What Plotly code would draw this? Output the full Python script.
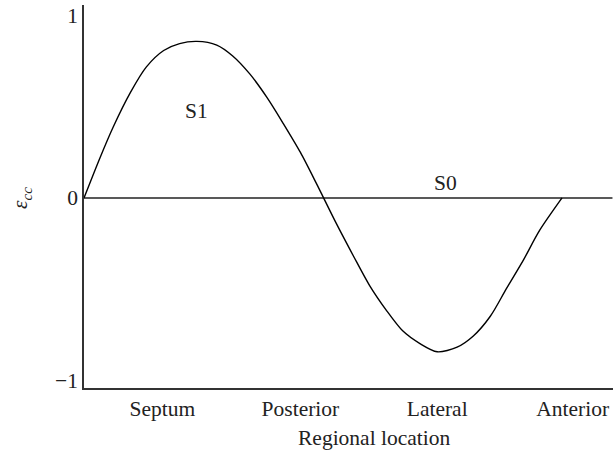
import plotly.graph_objects as go

# S1 curve (x: position along the regional circumference, y: strain)
s1_x = [0, 12, 22, 35, 47, 60, 72, 85, 100, 112, 125, 138, 150, 163, 175,
        190, 203, 215, 228, 240, 253, 266, 281, 293, 306, 318, 331, 343, 360]
s1_y = [0.0, 0.22, 0.39, 0.58, 0.72, 0.81, 0.848, 0.86, 0.84, 0.78, 0.68, 0.55, 0.41, 0.25, 0.08,
        -0.14, -0.32, -0.48, -0.62, -0.73, -0.80, -0.845, -0.82, -0.76, -0.65, -0.50, -0.34, -0.18, 0.0]

# S0 baseline
s0_x = [0, 398]
s0_y = [0, 0]

x_tick_pos = [59, 163, 266, 368]
x_tick_labels = ["Septum", "Posterior", "Lateral", "Anterior"]
y_tick_vals = [-1, 0, 1]
y_tick_labels = ["\u22121", "0", "1"]

FONT = "Liberation Serif"
FS = 21.5

fig = go.Figure()
fig.add_trace(go.Scatter(x=s0_x, y=s0_y, mode="lines",
                         line=dict(color="#222222", width=1.5), name="S0"))
fig.add_trace(go.Scatter(x=s1_x, y=s1_y, mode="lines",
                         line=dict(color="#000000", width=1.4, shape="spline", smoothing=0.8),
                         name="S1"))

fig.add_annotation(x=85, y=0.48, text="S1", showarrow=False,
                   xanchor="center", yanchor="middle",
                   font=dict(family=FONT, size=FS, color="#222"))
fig.add_annotation(x=272, y=0.08, text="S0", showarrow=False,
                   xanchor="center", yanchor="middle",
                   font=dict(family=FONT, size=FS, color="#222"))

fig.add_annotation(xref="paper", yref="paper", x=(374 - 84) / 529, y=-(438 - 388) / 383,
                   text="Regional location", showarrow=False,
                   xanchor="center", yanchor="middle",
                   font=dict(family=FONT, size=FS, color="#222"))
fig.add_annotation(xref="paper", yref="paper", x=-(84 - 21) / 529, y=(388 - 198) / 383,
                   text="<i>ε<sub>cc</sub></i>", showarrow=False, textangle=-90,
                   xanchor="center", yanchor="middle",
                   font=dict(family=FONT, size=FS, color="#222"))

fig.update_layout(
    width=614, height=454,
    margin=dict(l=84, r=1, t=5, b=66, autoexpand=False),
    paper_bgcolor="white", plot_bgcolor="white",
    showlegend=False,
    font=dict(family=FONT, size=FS, color="#222"),
)
fig.update_xaxes(range=[0, 398.4], tickvals=x_tick_pos, ticktext=x_tick_labels,
                 showgrid=False, zeroline=False, showline=True, linecolor="#333",
                 linewidth=1.5, ticks="", automargin=False,
                 tickfont=dict(family=FONT, size=FS, color="#222"))
fig.update_yaxes(range=[-1.044, 1.06], tickvals=y_tick_vals, ticktext=y_tick_labels,
                 showgrid=False, zeroline=False, showline=True, linecolor="#333",
                 linewidth=1.5, ticks="", automargin=False,
                 tickfont=dict(family=FONT, size=FS, color="#222"))

fig.write_html("out.html", config={"displayModeBar": False},
               post_script="document.body.style.margin='0';document.body.style.padding='0';")
